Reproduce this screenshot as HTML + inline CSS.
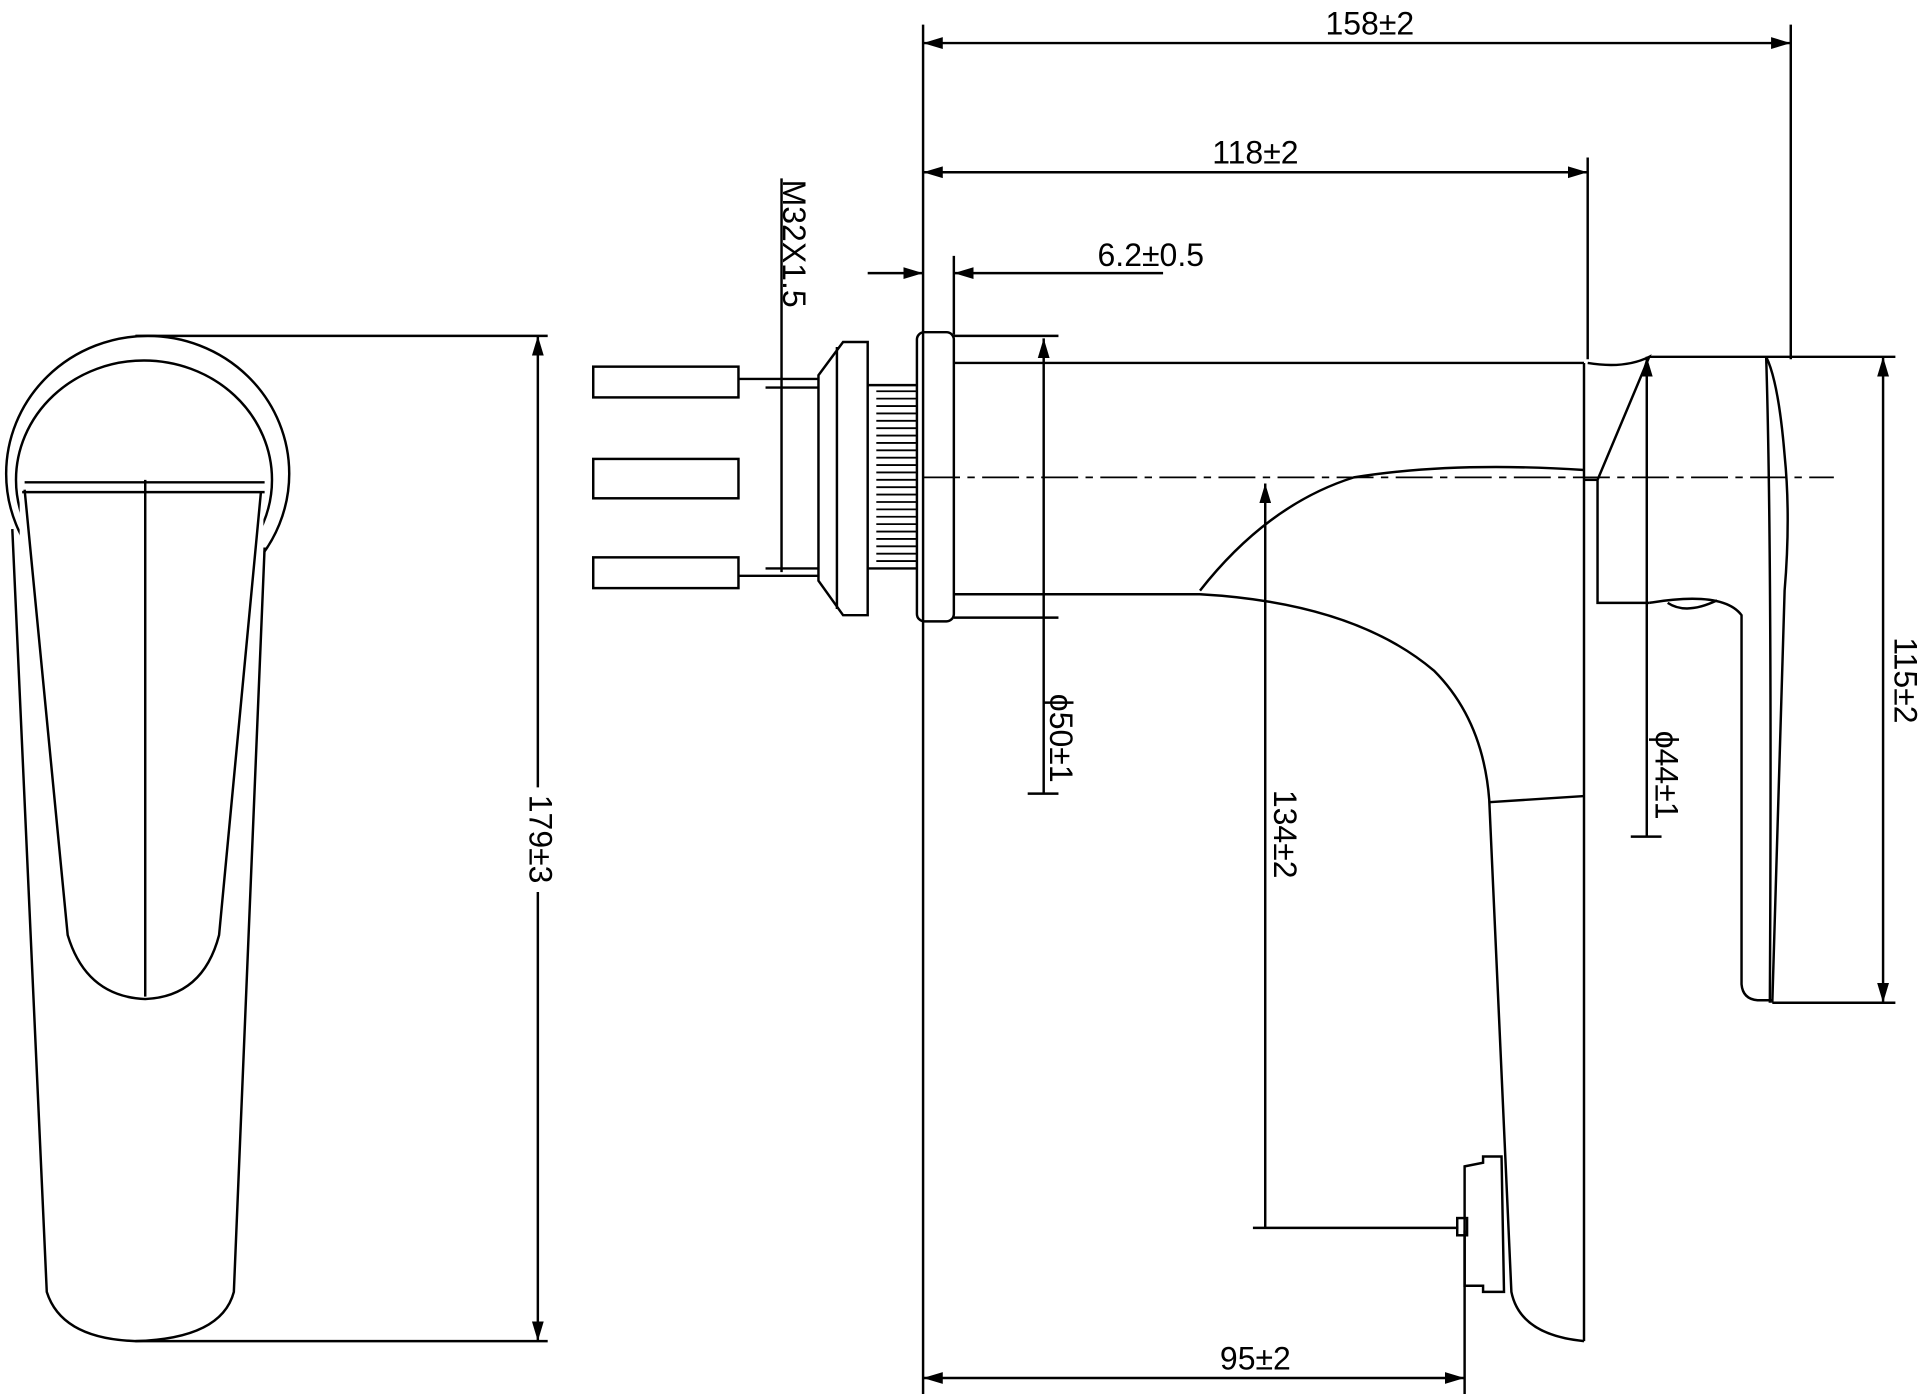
<!DOCTYPE html>
<html><head><meta charset="utf-8"><style>html,body{margin:0;padding:0;background:#fff}svg{display:block}</style></head>
<body>
<svg width="1920" height="1394" viewBox="0 0 1560 1133" preserveAspectRatio="none" xmlns="http://www.w3.org/2000/svg">
<defs><marker id="a" viewBox="0 0 10 10" refX="10" refY="5" markerWidth="8" markerHeight="8" orient="auto-start-reverse"><path d="M0,2 L10,5 L0,8z" fill="#000"/></marker>
<clipPath id="c"><rect x="0" y="0" width="300" height="395"/><rect x="0" y="395" width="16" height="60"/><rect x="214" y="395" width="40" height="60"/></clipPath></defs>
<g fill="none" stroke="#000" stroke-width="2">
<line x1="750" y1="20" x2="750" y2="1133"/>
<line x1="750" y1="35" x2="1455" y2="35" marker-start="url(#a)" marker-end="url(#a)"/>
<line x1="1455" y1="20" x2="1455" y2="292"/>
<line x1="750" y1="140" x2="1290" y2="140" marker-start="url(#a)" marker-end="url(#a)"/>
<line x1="1290" y1="128" x2="1290" y2="292"/>
<line x1="705" y1="222" x2="750" y2="222" marker-end="url(#a)"/>
<line x1="945" y1="222" x2="775" y2="222" marker-end="url(#a)"/>
<line x1="775" y1="208" x2="775" y2="272"/>
<line x1="635" y1="145" x2="635" y2="465"/>
<line x1="622" y1="315" x2="665" y2="315"/>
<line x1="622" y1="462" x2="665" y2="462"/>
<!-- left view -->
<g clip-path="url(#c)">
<ellipse cx="120" cy="385" rx="115" ry="112"/>
<ellipse cx="117" cy="390" rx="104" ry="97"/>
</g>
<line x1="20" y1="392" x2="215" y2="392"/>
<line x1="18" y1="400" x2="215" y2="400"/>
<line x1="118" y1="390" x2="118" y2="810"/>
<path d="M20,398 L55,760 Q70,810 118,812 Q165,810 178,760 L212,400"/>
<path d="M10,430 L38,1050 Q50,1088 110,1090 Q180,1088 190,1050 L215,445"/>
<line x1="110" y1="273" x2="445" y2="273"/>
<line x1="110" y1="1090" x2="445" y2="1090"/>
<line x1="437" y1="273" x2="437" y2="640" marker-start="url(#a)"/>
<line x1="437" y1="725" x2="437" y2="1090" marker-end="url(#a)"/>
<!-- connector -->
<rect x="482" y="298" width="118" height="25"/>
<rect x="482" y="373" width="118" height="32"/>
<rect x="482" y="453" width="118" height="25"/>
<line x1="600" y1="308" x2="665" y2="308"/>
<line x1="600" y1="468" x2="665" y2="468"/>
<path d="M665,305 L685,278 L705,278 L705,500 L685,500 L665,472 Z"/>
<line x1="680" y1="282" x2="680" y2="495"/>
<path d="M705,313 L745,313 M705,462 L745,462"/>
<g stroke-width="1.5">
<path d="M712,318 L745,318 M712,324 L745,324 M712,330 L745,330 M712,336 L745,336 M712,342 L745,342 M712,348 L745,348 M712,354 L745,354 M712,360 L745,360 M712,366 L745,366 M712,372 L745,372 M712,378 L745,378 M712,384 L745,384 M712,390 L745,390 M712,396 L745,396 M712,402 L745,402 M712,408 L745,408 M712,414 L745,414 M712,420 L745,420 M712,426 L745,426 M712,432 L745,432 M712,438 L745,438 M712,444 L745,444 M712,450 L745,450 M712,456 L745,456"/>
</g>
<rect x="745" y="270" width="30" height="235" rx="6"/>
<line x1="775" y1="273" x2="860" y2="273"/>
<line x1="775" y1="502" x2="860" y2="502"/>
<line x1="775" y1="295" x2="1287" y2="295"/>
<line x1="775" y1="483" x2="975" y2="483"/>
<line x1="848" y1="275" x2="848" y2="645" marker-start="url(#a)"/>
<line x1="835" y1="645" x2="860" y2="645"/>
<line x1="750" y1="388" x2="1490" y2="388" stroke-dasharray="30,6,6,6" stroke-width="1.5"/>
<path d="M975,480 Q1030,410 1100,388 Q1180,375 1287,382"/>
<path d="M975,483 Q1100,490 1165,545 Q1205,585 1210,650 L1228,1050 Q1235,1085 1287,1090"/>
<line x1="1287" y1="295" x2="1287" y2="1090"/>
<line x1="1210" y1="652" x2="1287" y2="647"/>
<path d="M1190,948 L1205,945 L1205,940 L1220,940 L1222,1050 L1205,1050 L1205,1045 L1190,1045 Z"/>
<rect x="1184" y="990" width="8" height="14"/>
<line x1="1028" y1="393" x2="1028" y2="998" marker-start="url(#a)"/>
<line x1="1018" y1="998" x2="1185" y2="998"/>
<line x1="1190" y1="1000" x2="1190" y2="1133"/>
<line x1="750" y1="1120" x2="1190" y2="1120" marker-start="url(#a)" marker-end="url(#a)"/>
<path d="M1290,295 Q1320,300 1340,290 L1298,390 L1298,490 L1340,490"/>
<line x1="1298" y1="390" x2="1287" y2="390"/>
<line x1="1338" y1="290" x2="1338" y2="680" marker-start="url(#a)"/>
<line x1="1325" y1="680" x2="1350" y2="680"/>
<line x1="1340" y1="290" x2="1540" y2="290"/>
<line x1="1440" y1="815" x2="1540" y2="815"/>
<line x1="1530" y1="290" x2="1530" y2="815" marker-start="url(#a)" marker-end="url(#a)"/>
<path d="M1435,290 Q1445,310 1450,370 Q1455,420 1450,480 L1440,815"/>
<path d="M1435,290 Q1440,450 1438,815"/>
<path d="M1340,490 Q1400,480 1415,500 L1415,800 Q1416,812 1428,813 L1440,813"/>
<path d="M1355,490 Q1370,500 1395,488"/>
</g>
<g font-family="Liberation Sans, sans-serif" font-size="26" fill="#000" text-anchor="middle">
<text x="1113" y="28">158±2</text>
<text x="1020" y="133">118±2</text>
<text x="935" y="216">6.2±0.5</text>
<text x="1020" y="1113">95±2</text>
<text transform="translate(643,198) rotate(90)" dominant-baseline="middle">M32X1.5</text>
<text transform="translate(437,682) rotate(90)" dominant-baseline="middle">179±3</text>
<text transform="translate(860,600) rotate(90)" dominant-baseline="middle">ϕ50±1</text>
<text transform="translate(1042,678) rotate(90)" dominant-baseline="middle">134±2</text>
<text transform="translate(1352,630) rotate(90)" dominant-baseline="middle">ϕ44±1</text>
<text transform="translate(1546,553) rotate(90)" dominant-baseline="middle">115±2</text>
</g>
</svg>
</body></html>
